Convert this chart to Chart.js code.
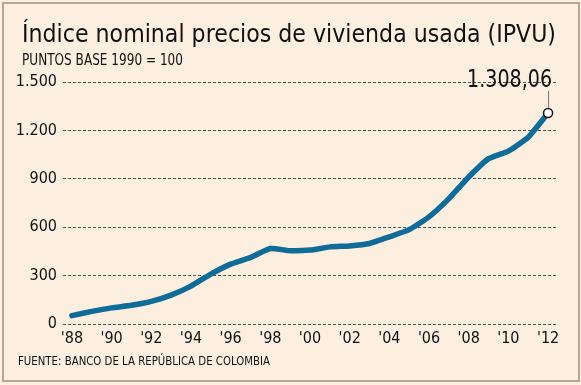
<!DOCTYPE html>
<html>
<head>
<meta charset="utf-8">
<script src="https://cdn.jsdelivr.net/npm/chart.js@4/dist/chart.umd.min.js"></script>
<style>
  body { margin: 0; width: 581px; height: 385px; background: #fcefdf; position: relative; overflow: hidden; }
  #frame { position: absolute; left: 2px; top: 2px; width: 578px; height: 380px; box-sizing: border-box; border: 2px solid #b9a595; }
  canvas { position: absolute; left: 0; top: 0; }
  .txt { position: absolute; white-space: nowrap; color: #111; font-family: "DejaVu Sans", sans-serif; transform-origin: 0 0; }
  #title { left: 22px; top: 19px; font-size: 25px; }
  #subtitle { left: 22px; top: 51px; font-size: 15px; }
  #source { left: 18px; top: 354px; font-size: 12px; }
</style>
</head>
<body>
<div id="frame"></div>
<canvas id="chart" width="581" height="385"></canvas>
<div class="txt" id="title" data-w="534">Índice nominal precios de vivienda usada (IPVU)</div>
<div class="txt" id="subtitle" data-w="161">PUNTOS BASE 1990 = 100</div>
<div class="txt" id="source" data-w="252">FUENTE: BANCO DE LA REPÚBLICA DE COLOMBIA</div>
<script>
// data
const years = [1988, 1989, 1990, 1991, 1992, 1993, 1994, 1995, 1996, 1997, 1998, 1999, 2000,
               2001, 2002, 2003, 2004, 2005, 2006, 2007, 2008, 2009, 2010, 2011, 2012];
const ipvu = [52, 78, 100, 116, 140, 179, 235, 309, 371, 412, 468, 454, 458,
              478, 484, 499, 540, 585, 664, 777, 911, 1025, 1072, 1158, 1308.06];
const yTicks = [0, 300, 600, 900, 1200, 1500];
const lastLabel = "1.308,06";

const FONT = '"Liberation Sans Narrow", "DejaVu Sans Condensed", "DejaVu Sans", sans-serif';

// squeeze the html texts to the widths in the picture
document.querySelectorAll(".txt").forEach(el => {
  const w = el.getBoundingClientRect().width;
  el.style.transform = "scaleX(" + (el.dataset.w / w) + ")";
});

function thousands(v) {
  return String(v).replace(/\B(?=(\d{3})+(?!\d))/g, ".");
}

const callout = {
  id: "callout",
  afterDatasetsDraw(chart) {
    const meta = chart.getDatasetMeta(0);
    const pt = meta.data[meta.data.length - 1];
    const c = chart.ctx;
    c.save();
    c.strokeStyle = "#777";
    c.lineWidth = 1;
    c.beginPath();
    c.moveTo(pt.x + 0.5, pt.y - 5);
    c.lineTo(pt.x + 0.5, pt.y - 22);
    c.stroke();
    c.font = "25px \"DejaVu Sans\", sans-serif";
    c.fillStyle = "#111";
    c.textAlign = "right";
    c.textBaseline = "alphabetic";
    const w = c.measureText(lastLabel).width;
    c.translate(pt.x + 4, pt.y - 26);
    c.scale(85 / w, 1);
    c.fillText(lastLabel, 0, 0);
    c.restore();
  }
};

const ctx = document.getElementById("chart").getContext("2d");
const chart = new Chart(ctx, {
  type: "line",
  data: {
    datasets: [{
      data: years.map((y, i) => ({ x: y, y: ipvu[i] })),
      borderColor: "#0f6b98",
      borderWidth: 5.5,
      borderCapStyle: "round",
      borderJoinStyle: "round",
      tension: 0.15,
      fill: false,
      pointRadius: c => c.dataIndex === years.length - 1 ? 4.5 : 0,
      pointBackgroundColor: "#fff",
      pointBorderColor: "#111",
      pointBorderWidth: 1.5
    }]
  },
  options: {
    responsive: false,
    animation: false,
    layout: { padding: { left: 0, right: 24, top: 82, bottom: 0 } },
    plugins: { legend: { display: false }, tooltip: { enabled: false } },
    scales: {
      x: {
        type: "linear",
        min: 1987.55,
        max: 2012.45,
        afterFit: s => { s.height = 61; },
        afterBuildTicks: s => { s.ticks = years.filter(y => y % 2 === 0).map(v => ({ value: v })); },
        ticks: {
          padding: 5,
          color: "#111",
          font: { family: FONT, size: 16 },
          maxRotation: 0,
          autoSkip: false,
          callback: v => "'" + String(v).slice(2)
        },
        grid: { display: false, drawTicks: false },
        border: { display: false }
      },
      y: {
        min: 0,
        max: 1500,
        afterFit: s => { s.width = 63; },
        afterBuildTicks: s => { s.ticks = yTicks.map(v => ({ value: v })); },
        ticks: {
          padding: 6,
          color: "#111",
          font: { family: FONT, size: 16 },
          callback: v => thousands(v)
        },
        grid: { color: "#555", lineWidth: 1, drawTicks: false },
        border: { display: false, dash: [3, 2] }
      }
    }
  },
  plugins: [callout]
});
</script>
</body>
</html>
